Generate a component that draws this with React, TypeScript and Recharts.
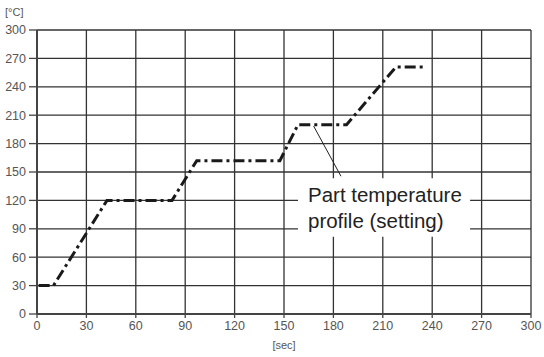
import React from "react";
import {
  LineChart,
  Line,
  XAxis,
  YAxis,
  CartesianGrid,
  ReferenceArea,
  ReferenceLine,
} from "recharts";

const timeSec = [1, 10, 42.5, 82, 97, 147.5, 158.5, 188, 218, 236];
const tempC = [30, 30, 120, 120, 162, 162, 200, 200, 261, 261];
const xTicks = [0, 30, 60, 90, 120, 150, 180, 210, 240, 270, 300];
const yTicks = [0, 30, 60, 90, 120, 150, 180, 210, 240, 270, 300];
const annotationLines = ["Part temperature", "profile (setting)"];
const leader = [
  { x: 168, y: 198.5 },
  { x: 184.6, y: 145.5 },
];
const boxX = [158.5, 263];
const boxY = [81.5, 143.5];

const data = timeSec.map((t, i) => ({ t, temp: tempC[i] }));

const FONT = "'Liberation Sans', Arial, Helvetica, sans-serif";

const AnnotationLabel = (props: any) => {
  const vb = props.viewBox || {};
  const x = (vb.x ?? 0) + 10;
  const y = (vb.y ?? 0) + 24;
  return (
    <text
      x={x}
      y={y}
      fontFamily={FONT}
      fontSize={20.5}
      fill="#222"
    >
      <tspan x={x} y={y}>
        {annotationLines[0]}
      </tspan>
      <tspan x={x} y={y + 26}>
        {annotationLines[1]}
      </tspan>
    </text>
  );
};

export default function App() {
  return (
    <div
      style={{
        position: "absolute",
        left: 0,
        top: 0,
        width: 544,
        height: 357,
        background: "#fff",
        fontFamily: FONT,
      }}
    >
      <LineChart
        width={544}
        height={357}
        data={data}
        margin={{ top: 30, right: 13, bottom: 0, left: 0 }}
      >
        <CartesianGrid stroke="#333" strokeWidth={1.3} />
        <XAxis
          dataKey="t"
          type="number"
          domain={[0, 300]}
          ticks={xTicks}
          interval={0}
          height={43}
          tickSize={4}
          tickMargin={3}
          axisLine={{ stroke: "#444", strokeWidth: 2 }}
          tickLine={{ stroke: "#444", strokeWidth: 1.3 }}
          tick={{ fill: "#555", fontSize: 12.5, fontFamily: FONT }}
        />
        <YAxis
          type="number"
          domain={[0, 300]}
          ticks={yTicks}
          interval={0}
          width={37}
          tickSize={8}
          tickMargin={3}
          axisLine={{ stroke: "#444", strokeWidth: 2 }}
          tickLine={{ stroke: "#444", strokeWidth: 1.3 }}
          tick={{ fill: "#555", fontSize: 12.5, fontFamily: FONT }}
        />
        <ReferenceArea
          x1={boxX[0]}
          x2={boxX[1]}
          y1={boxY[0]}
          y2={boxY[1]}
          fill="#fff"
          fillOpacity={1}
          stroke="none"
          ifOverflow="visible"
          label={AnnotationLabel}
        />
        <ReferenceLine
          segment={leader}
          stroke="#222"
          strokeWidth={1}
          ifOverflow="visible"
        />
        <Line
          dataKey="temp"
          type="linear"
          stroke="#1a1a1a"
          strokeWidth={3}
          strokeDasharray="11 4 3 4"
          dot={false}
          activeDot={false}
          isAnimationActive={false}
        />
      </LineChart>
      <div
        style={{
          position: "absolute",
          left: 5,
          top: 5,
          fontSize: 11,
          color: "#555",
          lineHeight: "14px",
        }}
      >
        [°C]
      </div>
      <div
        style={{
          position: "absolute",
          left: 270,
          top: 338,
          width: 28,
          textAlign: "center",
          fontSize: 11,
          color: "#555",
          lineHeight: "14px",
        }}
      >
        [sec]
      </div>
    </div>
  );
}
